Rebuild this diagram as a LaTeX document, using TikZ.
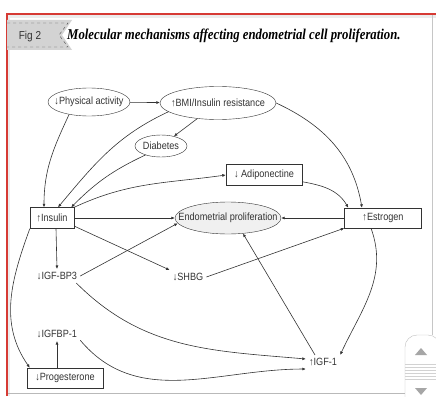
\documentclass[tikz,border=0pt]{standalone}
\usepackage{fontspec}
\setmainfont{Liberation Sans}[FakeStretch=0.87]
\newfontfamily\captionfont{Liberation Serif}[FakeStretch=0.85]
\usetikzlibrary{arrows.meta,shapes.geometric}
\definecolor{inkgray}{HTML}{333333}
\definecolor{framered}{HTML}{D63A34}
\definecolor{tabgray}{HTML}{D3D3D3}
\tikzset{
  oval/.style={draw=inkgray,ellipse,inner xsep=-16pt,inner ysep=0pt},
  factor/.style={draw=inkgray,rectangle,inner sep=0pt},
  tag/.style={inner sep=3pt},
  link/.style={draw=inkgray,line width=0.6pt,-{Latex[length=3.5pt,width=3pt]}},
}
\begin{document}
\begin{tikzpicture}[x=1pt,y=1pt,font=\fontsize{10.5}{12}\selectfont,text=inkgray]
  \useasboundingbox (0,0) rectangle (436,-396);
  % page frame
  \fill[gray!15] (7,-14) rectangle (436,-18);
  \fill[gray!15] (7,-14) rectangle (10,-396);
  \draw[gray!55] (7,-393) -- (405,-393);
  \draw[gray!45] (432,-14) -- (432,-335);
  \draw[framered,line width=1.2pt] (7,-396) -- (7,-14) -- (436,-14);
  % figure tab and caption
  \fill[tabgray] (7,-20) -- (72,-20) -- (62,-35) -- (72,-50) -- (7,-50) -- cycle;
  \draw[dashed,gray!60!black,line width=0.4pt] (7,-23) -- (68,-23) -- (59,-35) -- (68,-47) -- (7,-47);
  \node (fig) at (30,-37) {\fontsize{11.5}{13}\selectfont Fig 2};
  \node[anchor=west,inner sep=0pt,text=black] (title) at (67,-36)
    {\captionfont\bfseries\itshape\fontsize{15}{17}\selectfont Molecular mechanisms affecting endometrial cell proliferation.};
  % scroll widget
  \draw[gray!50,fill=white,rounded corners=12pt] (405,-400) -- (405,-335) -- (440,-335) -- (440,-400);
  \foreach \y in {364,367,...,379}
    \draw[gray!35] (405,-\y) -- (436,-\y);
  \fill[gray!70] (415,-355) -- (427,-355) -- (421,-348) -- cycle;
  \fill[gray!70] (415,-388) -- (427,-388) -- (421,-395) -- cycle;
  % factors
  \draw
    (89,-102) node[oval,minimum width=82,minimum height=28] (phys){↓Physical activity}
    (218,-103) node[oval,minimum width=116,minimum height=33] (bmi){↑BMI/Insulin resistance}
    (161,-146) node[oval,minimum width=52,minimum height=22] (diab){Diabetes}
    (52,-218) node[factor,minimum width=44,minimum height=21] (ins){↑Insulin}
    (264,-175) node[factor,minimum width=76,minimum height=21] (adipo){↓ Adiponectine}
    (383,-218) node[factor,minimum width=77,minimum height=20] (estr){↑Estrogen}
    (228,-218) node[oval,fill=gray!12,minimum width=106,minimum height=32] (endo){Endometrial proliferation}
    (188,-277) node[tag] (shbg){↓SHBG}
    (57,-276) node[tag] (bp3){↓IGF-BP3}
    (57,-334) node[tag] (bp1){↓IGFBP-1}
    (65,-378) node[factor,minimum width=76,minimum height=20] (prog){↓Progesterone}
    (323,-362) node[tag] (igf){↑IGF-1};
  \begin{scope}[link]
    \draw (phys) to (bmi);
    \draw (bmi) to (diab);
    \draw (phys.212) to[out=245,in=90] ([xshift=-8pt]ins.north);
    \draw (bmi.190) to[out=205,in=50] ([xshift=6pt]ins.north);
    \draw (diab.210) to[bend right=10] ([xshift=-3pt]ins.north east);
    \draw (ins.north east) to[out=25,in=188] (adipo.west);
    \draw (adipo.-10) to[out=-10,in=120] ([xshift=4pt]estr.north west);
    \draw (bmi.east) to[out=-25,in=100] ([xshift=-21pt]estr.north);
    \draw (estr) to (endo);
    \draw (ins) to (endo);
    \draw (ins.-20) to (shbg.north west);
    \draw (shbg.east) to (estr.south west);
    \draw ([xshift=4pt]ins.south) to (bp3.north);
    \draw (bp3.east) to (endo.186);
    \draw (bp3.-20) to[out=-45,in=175] ([yshift=3pt]igf.west);
    \draw (bp1.-15) to[out=-50,in=180] (igf.south west);
    \draw (bp1.south |- prog.north) to (bp1.south);
    \draw (ins.south west) to[out=250,in=125] ([xshift=3pt]prog.north west);
    \draw ([xshift=-8pt]igf.north) to (endo.-46);
    \draw ([xshift=-12pt]estr.south) to[out=-70,in=65] (igf.north east);
  \end{scope}
\end{tikzpicture}
\end{document}
